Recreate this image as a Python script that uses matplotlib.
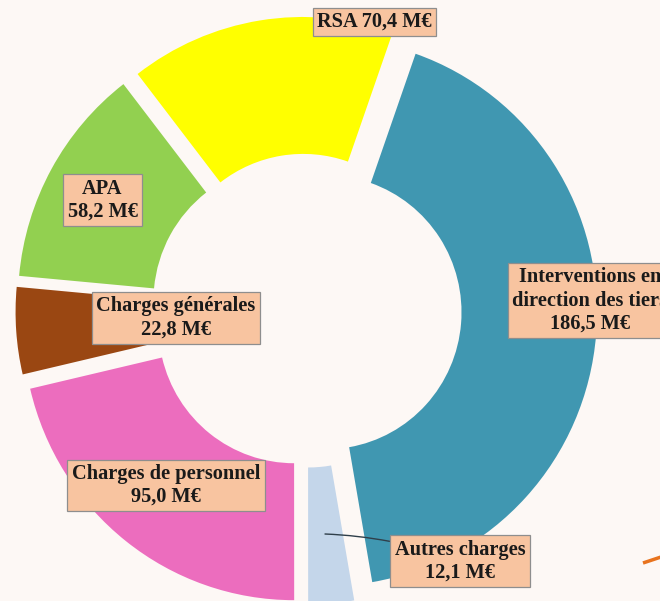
import matplotlib
matplotlib.use("Agg")

import matplotlib.pyplot as plt

# ── Data ──────────────────────────────────────────────────────────────────────
categories = [
    "Interventions en\ndirection des tiers",
    "Autres charges",
    "Charges de personnel",
    "Charges générales",
    "APA",
    "RSA",
]
values = [186.5, 12.1, 95.0, 22.8, 58.2, 70.4]   # M€
colors = ["#4097B1", "#C4D6EA", "#EC6DBE", "#9A4712", "#92D050", "#FFFF00"]

# label box centres, in picture pixels (from top-left)
label_px = [(590, 300.5), (460, 561), (166, 485.5),
            (176, 318), (102.5, 200), (374.5, 22)]
one_line = {"RSA"}

BG = "#FDF8F5"
W, H = 660, 601
CX, CY = 306.3, 310.6      # pie centre in pixels
PX, PY = 271.0, 273.9      # pixels per data unit (picture is a bit stretched vertically)


def to_data(px, py):
    return (px - CX) / PX, (CY - py) / PY


def fmt(v):
    return f"{v:.1f}".replace(".", ",") + " M€"


fig = plt.figure(figsize=(W / 100, H / 100), dpi=100, facecolor=BG)
ax = fig.add_axes([0, 0, 1, 1])
ax.set_facecolor(BG)

ax.pie(values, colors=colors, startangle=70.7, counterclock=False,
       radius=1.0, explode=[0.073] * len(values),
       wedgeprops=dict(width=0.5, edgecolor="none"))

box = dict(boxstyle="square,pad=0.22", facecolor="#F8C4A0",
           edgecolor="#8E8E8E", linewidth=0.9)
font = dict(family=["Liberation Serif", "DejaVu Serif"], fontweight="bold",
            fontsize=14.7, color="#1A1A1A", linespacing=1.2)

for cat, val, pos in zip(categories, values, label_px):
    sep = " " if cat in one_line else "\n"
    txt = f"{cat}{sep}{fmt(val)}"
    if cat == "Autres charges":
        ax.annotate(txt, xy=to_data(325, 534), xytext=to_data(*pos),
                    ha="center", va="center", bbox=box, **font,
                    arrowprops=dict(arrowstyle="-", color="#2F3F4A", lw=1.0,
                                    shrinkA=0, shrinkB=0,
                                    connectionstyle="arc3,rad=0.08"))
    else:
        ax.text(*to_data(*pos), txt, ha="center", va="center", bbox=box,
                clip_on=False, **font)

# small orange stroke entering from the right edge
x0, y0 = to_data(643, 563)
x1, y1 = to_data(664, 556)
ax.plot([x0, x1], [y0, y1], color="#E8731E", lw=2.5, solid_capstyle="butt")

ax.set_xlim(-CX / PX, (W - CX) / PX)
ax.set_ylim(-(H - CY) / PY, CY / PY)
ax.set_aspect("auto")
ax.axis("off")

fig.savefig("out.png", dpi=100, facecolor=BG)
